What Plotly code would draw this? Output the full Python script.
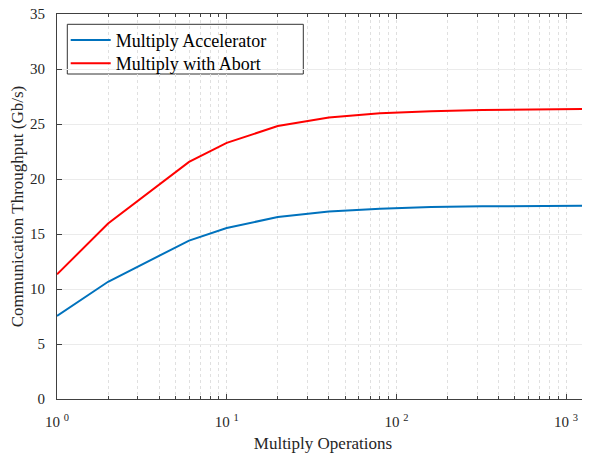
import plotly.graph_objects as go

ops = [1, 2, 6, 10, 20, 40, 80, 160, 320, 640, 1365]
accel = [7.55, 10.66, 14.4, 15.54, 16.55, 17.05, 17.3, 17.45, 17.52, 17.55, 17.57]
abort = [11.33, 15.95, 21.56, 23.28, 24.82, 25.6, 25.97, 26.17, 26.28, 26.33, 26.36]
names = ["Multiply Accelerator", "Multiply with Abort"]
colors = ["#0072BD", "#FF0000"]
x_tickvals = [1, 10, 100, 1000]
x_ticktext = ["10 <sup>0</sup>", "10 <sup>1</sup>", "10 <sup>2</sup>", "10 <sup>3</sup>"]
x_minor = [m * d for d in (1, 10, 100, 1000) for m in range(2, 10)]

FONT = "Liberation Serif"
AX = "#404040"
TXT = "#262626"

# the page body adds an 8px offset; work in window pixels and convert
OFF = 8
W, H = 590 - OFF, 453 - OFF
L, R, T, B = 57 - OFF, 1, 14 - OFF, 54
pw, ph = W - L - R, H - T - B

def px(xw):
    return (xw - OFF - L) / pw

def py(yw):
    return (H - B - (yw - OFF)) / ph

fig = go.Figure()
legends = ["legend", "legend2"]
for ys, nm, c, lg in zip([accel, abort], names, colors, legends):
    fig.add_trace(go.Scatter(x=ops, y=ys, mode="lines", name=nm, legend=lg,
                             line=dict(color=c, width=2)))

leg_common = dict(xanchor="left", yanchor="top", bgcolor="rgba(0,0,0,0)",
                  borderwidth=0, itemwidth=40,
                  font=dict(family=FONT, size=18, color="black"))

fig.update_layout(
    width=W, height=H,
    margin=dict(l=L, r=R, t=T, b=B, autoexpand=False),
    paper_bgcolor="white", plot_bgcolor="white",
    font=dict(family=FONT, color=TXT, size=15),
    showlegend=True,
    legend=dict(x=px(65.7), y=py(21.7), **leg_common),
    legend2=dict(x=px(65.7), y=py(45), **leg_common),
    shapes=[
        dict(type="rect", xref="paper", yref="paper",
             x0=px(67.3), x1=px(303.3), y0=py(74), y1=py(24.3),
             line=dict(color="#333333", width=1), fillcolor="white", layer="below"),
    ],
)

fig.update_xaxes(
    type="log", range=[0, 3.1351], automargin=False,
    tickmode="array", tickvals=x_tickvals, ticktext=x_ticktext,
    ticks="inside", ticklen=5, tickcolor=AX, tickwidth=1,
    showline=True, linecolor=AX, linewidth=1, mirror="ticks",
    showgrid=True, gridcolor="#dedede", griddash="dot", gridwidth=1,
    minor=dict(tickmode="array", tickvals=x_minor, ticks="inside", ticklen=3,
               tickcolor=AX, showgrid=True, gridcolor="#e0e0e0", griddash="dot", gridwidth=1),
    tickfont=dict(family=FONT, size=15, color=TXT),
    ticklabelstandoff=9, ticklabeloverflow="allow",
    title=dict(text="Multiply Operations", font=dict(family=FONT, size=17, color=TXT), standoff=8),
    zeroline=False,
)
fig.update_yaxes(
    range=[0, 35], dtick=5, tick0=0, automargin=False,
    ticks="inside", ticklen=5, tickcolor=AX, tickwidth=1,
    showline=True, linecolor=AX, linewidth=1, mirror="ticks",
    showgrid=True, gridcolor="#ebebeb", gridwidth=1,
    tickfont=dict(family=FONT, size=15, color=TXT),
    ticklabelstandoff=8, ticklabeloverflow="allow",
    title=dict(text="Communication Throughput (Gb/s)", font=dict(family=FONT, size=17, color=TXT), standoff=8),
    zeroline=False,
)

fig.write_html("out.html")
